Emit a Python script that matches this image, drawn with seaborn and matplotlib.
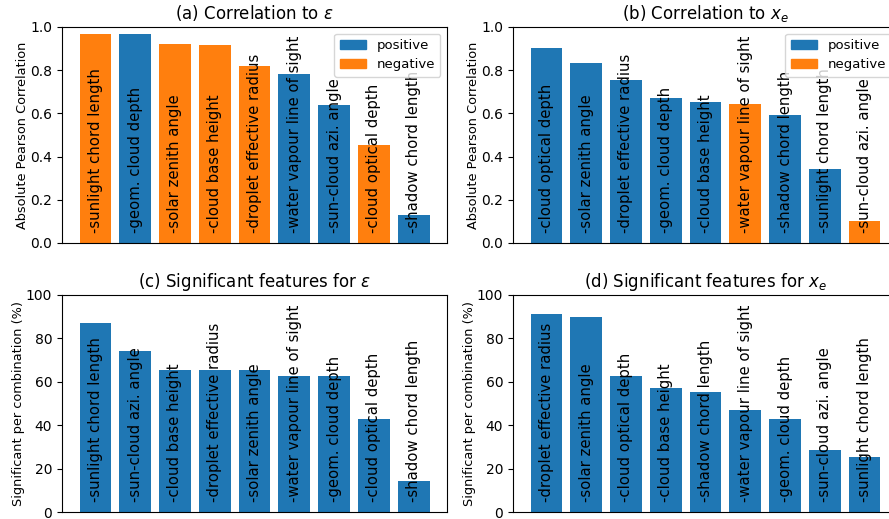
import matplotlib
matplotlib.use("Agg")
import matplotlib.pyplot as plt
import seaborn as sns
import pandas as pd
from matplotlib.patches import Patch

# ---- data ----
a_features = ["sunlight chord length", "geom. cloud depth", "solar zenith angle",
              "cloud base height", "droplet effective radius", "water vapour line of sight",
              "sun-cloud azi. angle", "cloud optical depth", "shadow chord length"]
a_values = [0.969, 0.969, 0.923, 0.915, 0.818, 0.782, 0.637, 0.452, 0.129]
a_sign = ["negative", "positive", "negative", "negative", "negative", "positive",
          "positive", "negative", "positive"]

b_features = ["cloud optical depth", "solar zenith angle", "droplet effective radius",
              "geom. cloud depth", "cloud base height", "water vapour line of sight",
              "shadow chord length", "sunlight chord length", "sun-cloud azi. angle"]
b_values = [0.905, 0.832, 0.754, 0.671, 0.652, 0.642, 0.592, 0.342, 0.103]
b_sign = ["positive", "positive", "positive", "positive", "positive", "negative",
          "positive", "positive", "negative"]

c_features = ["sunlight chord length", "sun-cloud azi. angle", "cloud base height",
              "droplet effective radius", "solar zenith angle", "water vapour line of sight",
              "geom. cloud depth", "cloud optical depth", "shadow chord length"]
c_values = [87.1, 74.2, 65.4, 65.4, 65.4, 62.6, 62.6, 42.8, 14.2]

d_features = ["droplet effective radius", "solar zenith angle", "cloud optical depth",
              "cloud base height", "shadow chord length", "water vapour line of sight",
              "geom. cloud depth", "sun-cloud azi. angle", "sunlight chord length"]
d_values = [91.2, 89.8, 62.6, 57.1, 55.2, 46.9, 42.8, 28.5, 25.2]

titles = ["(a) Correlation to $\\epsilon$", "(b) Correlation to $x_e$",
          "(c) Significant features for $\\epsilon$", "(d) Significant features for $x_e$"]
ylabels = ["Absolute Pearson Correlation", "Absolute Pearson Correlation",
           "Significant per combination (%)", "Significant per combination (%)"]

BLUE = "#1f77b4"
ORANGE = "#ff7f0e"
palette = {"positive": BLUE, "negative": ORANGE}

W, H = 889, 519
fig = plt.figure(figsize=(W / 100, H / 100), dpi=100)

def box(x0, x1, ytop, ybot):
    return [x0 / W, (H - ybot) / H, (x1 - x0) / W, (ybot - ytop) / H]

axA = fig.add_axes(box(62, 447, 27, 243))
axB = fig.add_axes(box(513, 898, 27, 243))
axC = fig.add_axes(box(62, 447, 295, 512))
axD = fig.add_axes(box(513, 898, 295, 512))

def draw(ax, feats, vals, signs, title, ylabel, ylim, yticks):
    df = pd.DataFrame({"feature": feats, "value": vals})
    if signs is not None:
        df["sign"] = signs
        sns.barplot(data=df, x="feature", y="value", hue="sign", order=feats,
                    hue_order=["positive", "negative"], palette=palette,
                    dodge=False, width=0.8, saturation=1, ax=ax, legend=False)
        handles = [Patch(color=BLUE, label="positive"), Patch(color=ORANGE, label="negative")]
        ax.legend(handles=handles, loc="upper right", fontsize=9.5)
    else:
        sns.barplot(data=df, x="feature", y="value", order=feats, color=BLUE,
                    width=0.8, saturation=1, ax=ax)
    n = len(feats)
    ax.set_xlim(-0.84, n - 1 + 0.84)
    ax.set_ylim(*ylim)
    ax.set_yticks(yticks)
    ax.set_xticks(range(n))
    ax.set_xticklabels(["-" + f for f in feats], rotation=90, va="bottom",
                       ha="center", fontsize=10.7)
    ax.tick_params(axis="x", length=0, pad=-7)
    ax.tick_params(axis="y", labelsize=10)
    ax.set_xlabel("")
    ax.set_ylabel(ylabel, fontsize=9.3, labelpad=1)
    ax.set_title(title, fontsize=12, pad=6)

draw(axA, a_features, a_values, a_sign, titles[0], ylabels[0], (0, 1.0),
     [0, 0.2, 0.4, 0.6, 0.8, 1.0])
draw(axB, b_features, b_values, b_sign, titles[1], ylabels[1], (0, 1.0),
     [0, 0.2, 0.4, 0.6, 0.8, 1.0])
draw(axC, c_features, c_values, None, titles[2], ylabels[2], (0, 100),
     [0, 20, 40, 60, 80, 100])
draw(axD, d_features, d_values, None, titles[3], ylabels[3], (0, 100),
     [0, 20, 40, 60, 80, 100])

fig.savefig("out.png", dpi=100)
